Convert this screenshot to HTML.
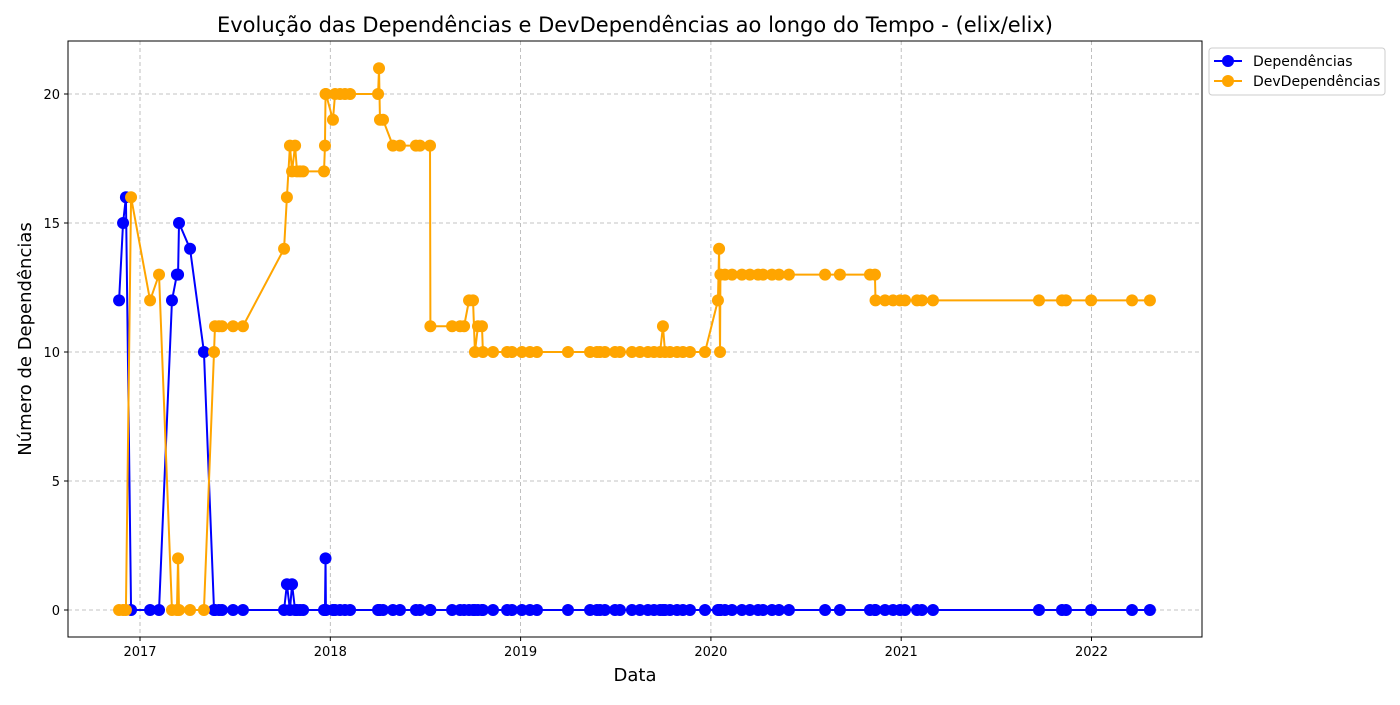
<!DOCTYPE html>
<html><head><meta charset="utf-8">
<style>
body{margin:0;background:#fff;font-family:"Liberation Sans","DejaVu Sans",sans-serif;}
svg text{font-family:"DejaVu Sans","Liberation Sans",sans-serif;}
</style></head>
<body>
<svg id="chart" width="1400" height="700" xmlns="http://www.w3.org/2000/svg">
<rect width="1400" height="700" fill="#fff"/>
<text x="635" y="32" font-size="21" text-anchor="middle">Evolução das Dependências e DevDependências ao longo do Tempo - (elix/elix)</text>
<g id="grid"></g>
<g id="series"></g>
<rect x="68" y="41" width="1134" height="596" fill="none" stroke="#000" stroke-width="1"/>
<g id="axes"></g>
<text x="635" y="681" font-size="18" text-anchor="middle">Data</text>
<text x="31" y="339" font-size="18" text-anchor="middle" transform="rotate(-90 31 339)">Número de Dependências</text>
<g>
<rect x="1209" y="48" width="176" height="47" rx="3" fill="#fff" stroke="#ccc"/>
<line x1="1214" y1="61" x2="1242" y2="61" stroke="blue" stroke-width="2"/>
<circle cx="1228" cy="61" r="6" fill="blue"/>
<text x="1253" y="66" font-size="14">Dependências</text>
<line x1="1214" y1="81" x2="1242" y2="81" stroke="orange" stroke-width="2"/>
<circle cx="1228" cy="81" r="6" fill="orange"/>
<text x="1253" y="86" font-size="14">DevDependências</text>
</g>
</svg>
<script>
const dates=[2016.890,2016.911,2016.926,2016.953,2017.053,2017.100,2017.168,2017.194,2017.200,2017.205,2017.263,2017.336,2017.389,2017.394,2017.415,2017.431,2017.489,2017.541,2017.757,2017.772,2017.788,2017.799,2017.815,2017.825,2017.841,2017.857,2017.967,2017.972,2017.975,2017.977,2018.014,2018.025,2018.051,2018.077,2018.104,2018.251,2018.256,2018.261,2018.277,2018.329,2018.366,2018.450,2018.471,2018.524,2018.526,2018.640,2018.682,2018.703,2018.729,2018.750,2018.760,2018.776,2018.797,2018.802,2018.855,2018.929,2018.955,2019.007,2019.049,2019.086,2019.249,2019.365,2019.401,2019.417,2019.443,2019.496,2019.522,2019.585,2019.627,2019.669,2019.701,2019.733,2019.748,2019.759,2019.785,2019.822,2019.853,2019.890,2019.969,2020.037,2020.043,2020.048,2020.050,2020.074,2020.111,2020.163,2020.205,2020.248,2020.274,2020.321,2020.358,2020.410,2020.600,2020.678,2020.836,2020.862,2020.865,2020.915,2020.957,2020.994,2021.020,2021.083,2021.109,2021.167,2021.724,2021.845,2021.866,2021.998,2022.213,2022.307];
const deps=[12,15,16,0,0,0,12,13,13,15,14,10,0,0,0,0,0,0,0,1,0,1,0,0,0,0,0,0,2,0,0,0,0,0,0,0,0,0,0,0,0,0,0,0,0,0,0,0,0,0,0,0,0,0,0,0,0,0,0,0,0,0,0,0,0,0,0,0,0,0,0,0,0,0,0,0,0,0,0,0,0,0,0,0,0,0,0,0,0,0,0,0,0,0,0,0,0,0,0,0,0,0,0,0,0,0,0,0,0,0];
const devDeps=[0,0,0,16,12,13,0,0,2,0,0,0,10,11,11,11,11,11,14,16,18,17,18,17,17,17,17,18,20,20,19,20,20,20,20,20,21,19,19,18,18,18,18,18,11,11,11,11,12,12,10,11,11,10,10,10,10,10,10,10,10,10,10,10,10,10,10,10,10,10,10,10,11,10,10,10,10,10,10,12,14,10,13,13,13,13,13,13,13,13,13,13,13,13,13,13,12,12,12,12,12,12,12,12,12,12,12,12,12,12];
const xTicks=[2017,2018,2019,2020,2021,2022];
const yTicks=[0,5,10,15,20];
const NS="http://www.w3.org/2000/svg";
const X=v=>140+(v-2017)*190.3;
const Y=v=>610-v*25.8;
const grid=document.getElementById('grid'),axes=document.getElementById('axes'),ser=document.getElementById('series');
function mk(tag,attrs,parent){const e=document.createElementNS(NS,tag);for(const k in attrs)e.setAttribute(k,attrs[k]);parent.appendChild(e);return e;}
xTicks.forEach(t=>{
 const x=X(t);
 const g=mk('line',{x1:x,x2:x,y1:41,y2:637,stroke:'#b0b0b0','stroke-dasharray':'4,3','stroke-width':0.8},grid);
 
 
 mk('line',{x1:x,x2:x,y1:637,y2:641,stroke:'#000'},axes);
 const tx=mk('text',{x:x,y:656,'font-size':13,'text-anchor':'middle'},axes);
 tx.textContent=t;
 
 
});
yTicks.forEach(t=>{
 const y=Y(t);
 const g=mk('line',{x1:68,x2:1202,y1:y,y2:y,stroke:'#b0b0b0','stroke-dasharray':'4,3','stroke-width':0.8},grid);
 
 
 mk('line',{x1:64,x2:68,y1:y,y2:y,stroke:'#000'},axes);
 const tx=mk('text',{x:60,y:y+5,'font-size':13,'text-anchor':'end'},axes);
 tx.textContent=t;
 
 
});
function draw(vals,color,name){
 const pts=dates.map((d,i)=>X(d)+','+Y(vals[i])).join(' ');
 const pl=mk('polyline',{points:pts,fill:'none',stroke:color,'stroke-width':2},ser);
 
 
 dates.forEach((d,i)=>{
  const c=mk('circle',{cx:X(d),cy:Y(vals[i]),r:6,fill:color},ser);
  
  
 });
}
draw(deps,'blue','dependencias');
draw(devDeps,'orange','devdependencias');
</script>
</body></html>
